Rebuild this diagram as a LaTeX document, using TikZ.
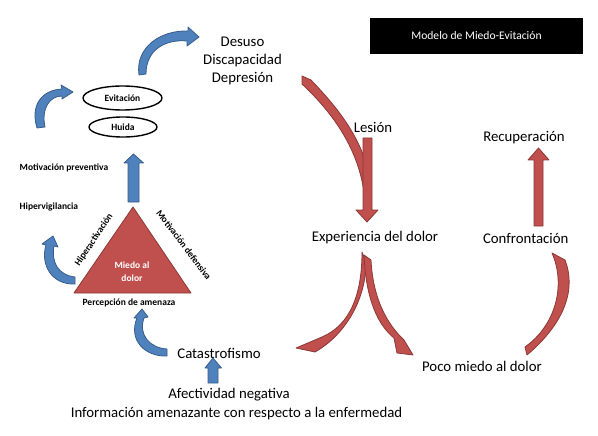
\documentclass[tikz,border=0pt]{standalone}
\usepackage{fontspec}
\setmainfont{Carlito}
\usetikzlibrary{arrows.meta}
\definecolor{rfill}{HTML}{C0504D}
\definecolor{rline}{HTML}{8C3836}
\definecolor{bfill}{HTML}{4F81BD}
\definecolor{bline}{HTML}{385D8A}
\tikzset{
  bigtxt/.style={font=\fontsize{14.8}{18}\selectfont, inner sep=0pt, align=center},
  smalltxt/.style={font=\fontsize{9.5}{11}\selectfont\bfseries, inner sep=0pt},
  redshape/.style={fill=rfill, draw=rline, line width=0.8pt, line join=round},
  blueshape/.style={fill=bfill, draw=bline, line width=0.8pt, line join=round},
}
\begin{document}
\begin{tikzpicture}[x=1pt,y=-1pt]
\useasboundingbox (0,0) rectangle (598,436);

% title
\node[fill=black, minimum width=213pt, minimum height=36pt, inner sep=0pt,
      text=white, font=\fontsize{11.6}{13}\selectfont] (title) at (476.5,36) {Modelo de Miedo-Evitación};

% big texts
\node[bigtxt] (des) at (242.5,61) {Desuso\\Discapacidad\\Depresión};
\node[bigtxt] (les) at (373,127) {Lesión};
\node[bigtxt] (rec) at (524,138) {Recuperación};
\node[bigtxt] (exp) at (375,238) {Experiencia del dolor};
\node[bigtxt] (con) at (525.7,238) {Confrontación};
\node[bigtxt] (poco) at (482,366.5) {Poco miedo al dolor};
\node[bigtxt] (cat) at (219,353) {Catastrofismo};
\node[bigtxt] (afe) at (229,395) {Afectividad negativa};
\node[bigtxt] (inf) at (236.5,414) {Información amenazante con respecto a la enfermedad};

% small labels
\node[smalltxt, anchor=west] (mot) at (19.5,168) {Motivación preventiva};
\node[smalltxt, anchor=west] (hip) at (19.5,207) {Hipervigilancia};
\node[smalltxt] (per) at (129,303) {Percepción de amenaza};
\node[smalltxt, rotate=56.5] (hiper) at (94,240) {Hiperactivación};
\node[smalltxt, rotate=-53] (motd) at (184,245) {Motivación defensiva};

% ellipses
\draw[line width=1.4pt] (122.5,98) ellipse [x radius=39.5, y radius=12];
\node[smalltxt] (evi) at (122.5,98) {Evitación};
\draw[line width=1.4pt] (123,127) ellipse [x radius=34, y radius=10];
\node[smalltxt] (hui) at (123,127) {Huida};

% triangle
\draw[redshape] (133,207) -- (74,293) -- (191,293) -- cycle;
\node[smalltxt, text=white, align=center, font=\fontsize{9.5}{13}\selectfont\bfseries] (mie) at (132,271.5) {Miedo al\\dolor};

% straight blue arrows
\draw[blueshape] (128,202) -- (128,163) -- (124,163) -- (133.5,154) -- (143.5,163) -- (139,163) -- (139,202) -- cycle;
\draw[blueshape] (208,383) -- (208,368) -- (205,368) -- (213,358) -- (221.5,368) -- (218,368) -- (218,383) -- cycle;

% curved blue arrows
\draw[blueshape] (139,75) .. controls (135,48) and (160,30) .. (188,31)
  -- (188,27) -- (199,37) -- (187,46) -- (187,41)
  .. controls (165,39) and (146,50) .. (146,74) -- cycle;
\draw[blueshape] (37,128) .. controls (30,105) and (42,90) .. (62,89)
  -- (61,85) -- (73,92) -- (62,99) -- (62,96)
  .. controls (50,96) and (41,108) .. (45,127) -- cycle;
\draw[blueshape] (75,277) .. controls (58,275) and (51,262) .. (54,246)
  -- (58,247) -- (53,236) -- (42,244) -- (46,245)
  .. controls (40,265) and (52,285) .. (75,284) -- cycle;
\draw[blueshape] (167,349) .. controls (150,348) and (138,335) .. (144,318)
  -- (148,317) -- (142,309) -- (134,318) -- (137,318)
  .. controls (128,340) and (145,357) .. (167,356) -- cycle;

% red bands
\draw[redshape] (302,76) -- (311,80) .. controls (335,105) and (355,130) .. (365,160)
  -- (364,192) .. controls (358,150) and (335,115) .. (302,84) -- cycle;
\draw[redshape] (363,138) -- (372,138) -- (372,210) -- (378,210) -- (367,222) -- (356,210) -- (363,210) -- cycle;
\draw[redshape] (534,226) -- (534,160) -- (528,160) -- (538.5,148) -- (549,160) -- (543,160) -- (543,226) -- cycle;

\draw[redshape] (362,252) .. controls (362,295) and (350,325) .. (322,337) -- (296,348) -- (315,352)
  .. controls (345,335) and (366,300) .. (366,262) -- cycle;
\draw[redshape] (364,255) .. controls (366,300) and (378,325) .. (394,338) -- (397,353) -- (413,355)
  -- (404,340) .. controls (388,325) and (373,300) .. (371,260) -- cycle;
\draw[redshape] (552,253) -- (565,260) .. controls (576,288) and (566,322) .. (527,355)
  -- (525,347) .. controls (556,325) and (566,285) .. (552,253) -- cycle;
\end{tikzpicture}
\end{document}
